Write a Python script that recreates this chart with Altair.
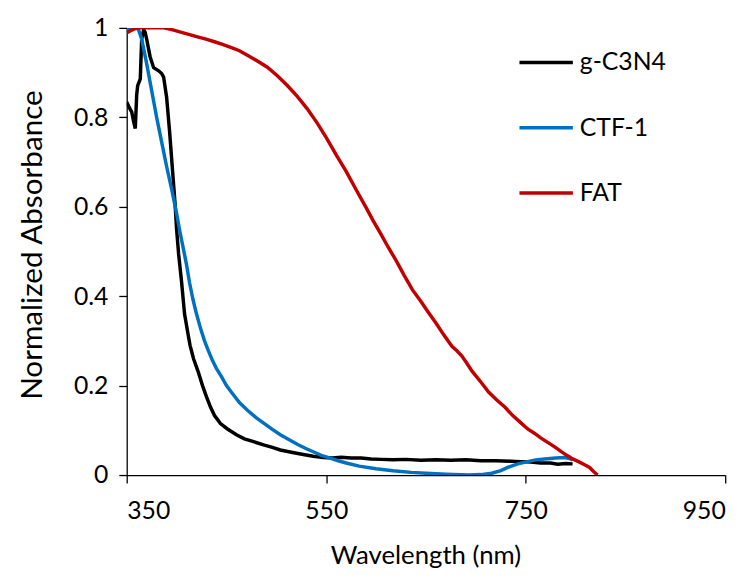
import altair as alt
import pandas as pd

series_names = ["g-C3N4", "CTF-1", "FAT"]
series_colors = ["#000000", "#0070C0", "#C00000"]

gcn_wl = [350, 353, 355, 357, 358.6, 360, 361, 363.6, 365, 367, 368.5, 370, 373.5, 377, 382, 385, 387, 390,
          393, 396, 398.5, 400, 402, 405, 408, 411.5, 413.5, 417, 421.5, 426, 430, 434, 438, 444, 451, 460,
          468, 478, 488, 496, 504, 515, 527, 537, 547, 556, 565, 575, 585, 595, 605, 617, 630, 645, 660,
          675, 690, 705, 720, 735, 745, 755, 765, 775, 782, 790, 797]
gcn_ab = [0.834, 0.82, 0.812, 0.79, 0.775, 0.85, 0.871, 0.886, 0.975, 0.996, 0.99, 0.975, 0.935, 0.911, 0.904,
          0.898, 0.89, 0.845, 0.768, 0.679, 0.606, 0.55, 0.495, 0.432, 0.36, 0.315, 0.29, 0.26, 0.232, 0.2,
          0.175, 0.152, 0.133, 0.115, 0.103, 0.09, 0.081, 0.074, 0.067, 0.062, 0.056, 0.051, 0.046, 0.042,
          0.039, 0.038, 0.040, 0.038, 0.038, 0.036, 0.035, 0.034, 0.035, 0.033, 0.034, 0.033, 0.034, 0.032,
          0.032, 0.031, 0.030, 0.029, 0.027, 0.027, 0.024, 0.026, 0.025]

ctf_wl = [350, 353, 356, 360, 362, 365, 370, 375, 380, 385, 390, 395, 400, 403, 406, 410, 413, 416.5, 420,
          424, 428, 432, 436, 440, 445, 450, 455, 463, 471, 480, 488, 496, 504, 512, 521, 529, 537, 545,
          554, 562, 570, 583, 600, 617, 635, 650, 670, 693, 705, 716, 725, 732, 742, 752, 760, 769, 780,
          789, 794, 797]
ctf_ab = [0.99, 0.998, 1.0, 1.0, 0.995, 0.975, 0.92, 0.86, 0.80, 0.745, 0.69, 0.64, 0.585, 0.548, 0.515,
          0.47, 0.43, 0.392, 0.36, 0.328, 0.300, 0.277, 0.256, 0.238, 0.22, 0.2, 0.185, 0.162, 0.145,
          0.128, 0.115, 0.102, 0.09, 0.08, 0.069, 0.06, 0.052, 0.044, 0.038, 0.032, 0.027, 0.02, 0.014,
          0.0095, 0.006, 0.004, 0.002, 0.0, 0.001, 0.004, 0.01, 0.017, 0.025, 0.030, 0.034, 0.036, 0.038,
          0.039, 0.037, 0.034]

fat_wl = [350, 355, 360, 367, 380, 387, 392, 397, 405, 413, 421, 429.5, 438, 446, 455, 463, 471, 481, 491,
          501, 511, 521, 531, 541, 550.5, 560, 570, 580, 590, 597, 605, 612, 620, 628, 636.5, 645, 653, 660,
          668, 676, 681, 686, 691, 696, 705, 713, 721, 729, 737, 746, 752, 759, 765, 772, 779, 786, 792,
          797, 803, 809, 814, 818, 822]
fat_ab = [0.989, 0.995, 1.0, 1.0, 1.0, 1.0, 0.998, 0.995, 0.99, 0.985, 0.98, 0.975, 0.969, 0.963, 0.956,
          0.949, 0.939, 0.926, 0.912, 0.893, 0.871, 0.847, 0.819, 0.787, 0.753, 0.716, 0.679, 0.638, 0.598,
          0.569, 0.538, 0.51, 0.48, 0.447, 0.414, 0.388, 0.362, 0.34, 0.313, 0.288, 0.278, 0.266, 0.25,
          0.233, 0.208, 0.185, 0.168, 0.152, 0.133, 0.115, 0.103, 0.093, 0.083, 0.073, 0.063, 0.052, 0.043,
          0.036, 0.03, 0.023, 0.017, 0.008, 0.0]

x_ticks = [350, 550, 750, 950]
y_ticks = [0, 0.2, 0.4, 0.6, 0.8, 1]

rows = []
for name, wl, ab in [(series_names[0], gcn_wl, gcn_ab),
                     (series_names[1], ctf_wl, ctf_ab),
                     (series_names[2], fat_wl, fat_ab)]:
    for i, (w, a) in enumerate(zip(wl, ab)):
        rows.append({"series": name, "wl": w, "ab": a, "idx": i})
df = pd.DataFrame(rows)

FONT = "Lato"

chart = alt.Chart(df).mark_line(strokeWidth=3.5, clip=True).encode(
    x=alt.X("wl:Q",
            scale=alt.Scale(domain=[350, 950], nice=False, zero=False),
            axis=alt.Axis(values=x_ticks, title="Wavelength (nm)", grid=False,
                          tickSize=8, labelPadding=16, labelFontSize=25, labelFont=FONT,
                          titleFont=FONT, titleFontSize=26, titleFontWeight="normal",
                          titleBaseline="alphabetic", titleX=302, titleY=89,
                          domainColor="#000000", tickColor="#000000", labelColor="#000000",
                          titleColor="#000000", domainWidth=1.3, tickWidth=1.3)),
    y=alt.Y("ab:Q",
            scale=alt.Scale(domain=[0, 1], nice=False),
            axis=alt.Axis(values=y_ticks, format="~g", title="Normalized Absorbance", grid=False,
                          tickSize=8, labelPadding=11, labelFontSize=25, labelFont=FONT,
                          titleFont=FONT, titleFontSize=30, titleFontWeight="normal",
                          titleBaseline="alphabetic", titleX=-86, titleY=219,
                          domainColor="#000000", tickColor="#000000", labelColor="#000000",
                          titleColor="#000000", domainWidth=1.3, tickWidth=1.3)),
    color=alt.Color("series:N",
                    scale=alt.Scale(domain=series_names, range=series_colors),
                    sort=series_names,
                    legend=alt.Legend(title=None, orient="none", legendX=395, legendY=6,
                                      symbolType="stroke", symbolSize=2916, symbolStrokeWidth=3.5,
                                      labelFontSize=25, labelFont=FONT, labelColor="#000000",
                                      labelOffset=5, rowPadding=24, padding=0)),
    order="idx:Q",
).properties(
    width=605, height=452,
    autosize=alt.AutoSizeParams(type="none"),
    padding={"left": 120, "top": 17, "right": 21, "bottom": 104},
).configure_view(stroke=None)

chart.save("out.html", embed_options={"renderer": "svg", "actions": False})
